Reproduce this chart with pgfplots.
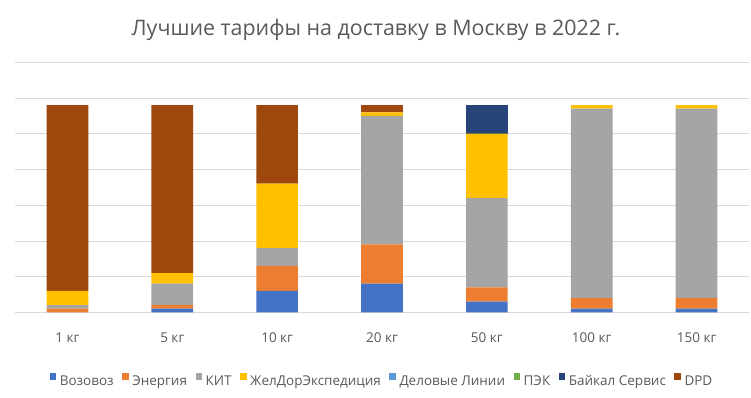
\documentclass[border=0pt]{standalone}
\usepackage{pgfplots}
\pgfplotsset{compat=1.18}
\usepackage{pgfplotstable}
\usepackage{fontspec}
\setmainfont{Open Sans}
\definecolor{cA}{HTML}{4472C4}
\definecolor{cB}{HTML}{ED7D31}
\definecolor{cC}{HTML}{A5A5A5}
\definecolor{cD}{HTML}{FFC000}
\definecolor{cE}{HTML}{5B9BD5}
\definecolor{cF}{HTML}{70AD47}
\definecolor{cG}{HTML}{264478}
\definecolor{cH}{HTML}{9E480E}
\definecolor{txt}{HTML}{595959}
\definecolor{gridc}{HTML}{D9D9D9}
\pgfplotstableread{
x A B C D E F G H
0 0 0.5 0.5 2 0 0 0 26
1 0.5 0.5 3 1.5 0 0 0 23.5
2 3 3.5 2.5 9 0 0 0 11
3 4 5.5 18 0.5 0 0 0 1
4 1.5 2 12.5 9 0 0 4 0
5 0.5 1.5 26.5 0.5 0 0 0 0
6 0.5 1.5 26.5 0.5 0 0 0 0
}\data
\begin{document}
\begin{tikzpicture}[x=1bp,y=1bp]
\useasboundingbox (0,0) rectangle (751,397);
\node[font=\fontsize{21.4bp}{25bp}\selectfont, text=txt] at (376,367) {Лучшие тарифы на доставку в Москву в 2022 г.};
\begin{axis}[
  at={(15bp,84.7bp)}, anchor=south west,
  scale only axis, width=734bp, height=250bp,
  ybar stacked, bar width=41.7bp,
  xmin=-0.5, xmax=6.5, ymin=0, ymax=35,
  xtick=data,
  xticklabels={1 кг,5 кг,10 кг,20 кг,50 кг,100 кг,150 кг},
  xticklabel style={anchor=center, yshift=-25.7bp, font=\fontsize{13.5bp}{15bp}\selectfont, text=txt},
  ytick={0,5,...,35}, yticklabels={},
  ymajorgrids, grid style={gridc, line width=0.75bp},
  axis line style={draw=none},
  major tick length=0pt,
  legend columns=-1,
  legend style={at={(0.5,-0.275)}, anchor=center, draw=none, fill=none,
    font=\fontsize{13.5bp}{16bp}\selectfont, text=txt,
    /tikz/every odd column/.append style={column sep=1.5bp},
    /tikz/every even column/.append style={column sep=6.5bp}},
  legend image code/.code={\fill[#1] (0bp,1.2bp) rectangle (6.6bp,7.8bp);},
  every axis plot/.append style={draw=none},
]
\addplot[fill=cA] table[x=x,y=A]{\data};
\addplot[fill=cB] table[x=x,y=B]{\data};
\addplot[fill=cC] table[x=x,y=C]{\data};
\addplot[fill=cD] table[x=x,y=D]{\data};
\addplot[fill=cE] table[x=x,y=E]{\data};
\addplot[fill=cF] table[x=x,y=F]{\data};
\addplot[fill=cG] table[x=x,y=G]{\data};
\addplot[fill=cH] table[x=x,y=H]{\data};
\legend{Возовоз,Энергия,КИТ,ЖелДорЭкспедиция,Деловые Линии,ПЭК,Байкал Сервис,DPD}
\end{axis}
\end{tikzpicture}
\end{document}
